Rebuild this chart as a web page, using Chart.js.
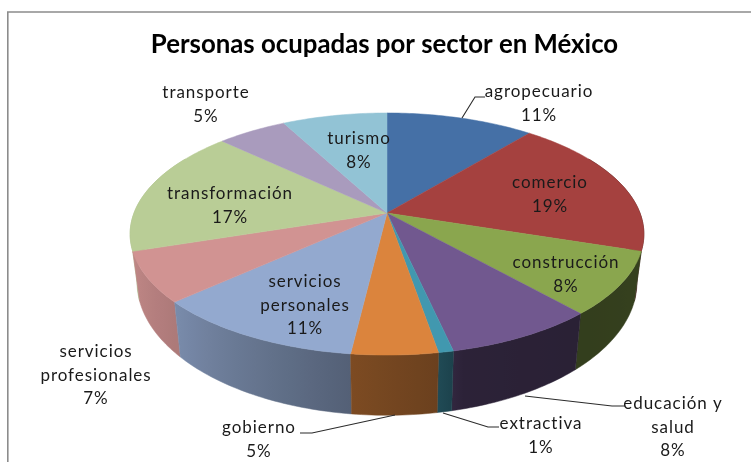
<!DOCTYPE html>
<html><head><meta charset="utf-8">
<style>html,body{margin:0;padding:0;background:#fff}canvas{display:block;filter:blur(0.45px)}</style>
<script src="https://cdn.jsdelivr.net/npm/chart.js@4"></script>
</head><body><canvas id="c" width="751" height="462"></canvas>
<script>
const chartTitle = 'Personas ocupadas por sector en México';
const categories = ['agropecuario','comercio','construcción','educación y salud','extractiva','gobierno','servicios personales','servicios profesionales','transformación','transporte','turismo'];
const shares = [11,19,8.4,8.1,0.8,4.6,11.4,6.7,17,5.2,7.8];
const sliceColors = ['#4570A6','#A5413F','#8AA64E','#71588F','#4198AF','#DB843D','#93A9CF','#D19392','#B9CD96','#A99BBD','#92C3D5'];

const labelLines = [['agropecuario'],['comercio'],['construcción'],['educación y','salud'],['extractiva'],['gobierno'],['servicios','personales'],['servicios','profesionales'],['transformación'],['transporte'],['turismo']];
const labelAnchors = [[539,92],[550,183],[566,263],[673,404],[541,424],[259,428],[305,282],[96,352],[230,194],[206,93],[359,139]];
const leaders = [
  [[462,118],[475,97],[485,97]],
  [[525,396],[612,406],[625,406]],
  [[443,413],[488,427],[499,427]],
  [[395,415],[312,433],[300,433]]
];

// projection of the flat pie
const CX=387, CY=213, R=253, QR=117.4, P=0.1736;
const BOT_S=0.973, BOT_Q=1.10, BOT_CY=259;
const topPt=(t)=>{const x=Math.sin(t),y=-Math.cos(t),w=1-P*y;return [CX+R*x/w,CY+QR*y/w];};
const botPt=(t)=>{const x=Math.sin(t),y=-Math.cos(t),w=1-P*y;return [CX+R*BOT_S*x/w,BOT_CY+QR*BOT_Q*y/w];};
const shadeStops=[[0,.45],[108,.39],[140,.37],[166,.39],[169,.48],[187,.57],[230,.84],[252,.92],[360,.95]];
function shade(deg){
  for(let i=1;i<shadeStops.length;i++){const a=shadeStops[i-1],b=shadeStops[i];
    if(deg<=b[0]) return a[1]+(b[1]-a[1])*(deg-a[0])/(b[0]-a[0]);}
  return .9;
}
function mul(hex,f){const n=parseInt(hex.slice(1),16);
  return `rgb(${Math.round((n>>16&255)*f)},${Math.round((n>>8&255)*f)},${Math.round((n&255)*f)})`;}
const LIM0=60*Math.PI/180, LIM1=300*Math.PI/180;

const pie3d={
  id:'pie3d',
  beforeDraw(chart){
    const c=chart.ctx;c.save();c.strokeStyle='#8c8c8c';c.lineWidth=1.6;
    c.beginPath();c.moveTo(7.8,462);c.lineTo(7.8,12);c.lineTo(751,12);c.stroke();c.restore();
  },
  beforeDatasetDraw(chart){
    const c=chart.ctx, arcs=chart.getDatasetMeta(0).data;
    const walls=[];
    arcs.forEach((a,i)=>{
      const s=Math.max(a.startAngle+Math.PI/2,LIM0),e=Math.min(a.endAngle+Math.PI/2,LIM1);
      if(e>s) walls.push({i,s,e,y:-Math.cos((s+e)/2)});
    });
    walls.sort((p,q)=>p.y-q.y);
    walls.forEach(w=>{
      const n=Math.max(2,Math.ceil((w.e-w.s)/(Math.PI/180)));
      const tops=[],bots=[],ang=[];
      for(let k=0;k<=n;k++){const t=w.s+(w.e-w.s)*k/n;tops.push(topPt(t));bots.push(botPt(t));ang.push(t);}
      const xs=tops.concat(bots).map(p=>p[0]);
      const x0=Math.min(...xs),x1=Math.max(...xs);
      const g=c.createLinearGradient(x0,0,x1,0);
      tops.forEach((p,k)=>{
        if(k%4&&k<n) return;
        g.addColorStop((p[0]-x0)/(x1-x0),mul(sliceColors[w.i],shade(ang[k]*180/Math.PI)));
      });
      c.beginPath();
      tops.forEach((p,k)=>k?c.lineTo(p[0],p[1]):c.moveTo(p[0],p[1]));
      bots.reverse().forEach(p=>c.lineTo(p[0],p[1]));
      c.closePath();c.fillStyle=g;c.strokeStyle=g;c.lineWidth=.5;c.fill();c.stroke();
    });
    arcs.forEach((a,i)=>{
      const s=a.startAngle+Math.PI/2,e=a.endAngle+Math.PI/2;
      const n=Math.max(2,Math.ceil((e-s)/(Math.PI/180)));
      c.beginPath();c.moveTo(CX,CY);
      for(let k=0;k<=n;k++){const p=topPt(s+(e-s)*k/n);c.lineTo(p[0],p[1]);}
      c.closePath();c.fillStyle=sliceColors[i];c.strokeStyle=sliceColors[i];c.lineWidth=.5;c.fill();c.stroke();
    });
    return false;
  },
  afterDatasetsDraw(chart){
    const c=chart.ctx;c.save();
    c.strokeStyle='#2b2b2b';c.lineWidth=1.1;
    leaders.forEach(l=>{c.beginPath();l.forEach((p,i)=>i?c.lineTo(p[0],p[1]):c.moveTo(p[0],p[1]));c.stroke();});
    c.font='17px Lato';c.letterSpacing='0.95px';c.fillStyle='#1a1a1a';c.textAlign='center';c.textBaseline='middle';
    categories.forEach((_,i)=>{
      const lines=labelLines[i].concat([Math.round(shares[i])+'%']);
      lines.forEach((t,j)=>c.fillText(t,labelAnchors[i][0],labelAnchors[i][1]+j*23.5));
    });
    c.restore();
  }
};

new Chart(document.getElementById('c'),{
  type:'pie',
  data:{labels:categories,datasets:[{data:shares,backgroundColor:sliceColors,borderWidth:0}]},
  options:{
    responsive:false,animation:false,
    layout:{padding:{left:18}},
    events:[],
    plugins:{
      legend:{display:false},tooltip:{enabled:false},
      title:{display:true,text:chartTitle,color:'#000',align:'center',
        font:{family:'Lato',size:25.8,weight:'bold'},padding:{top:29,bottom:10}}
    }
  },
  plugins:[pie3d]
});
</script></body></html>
